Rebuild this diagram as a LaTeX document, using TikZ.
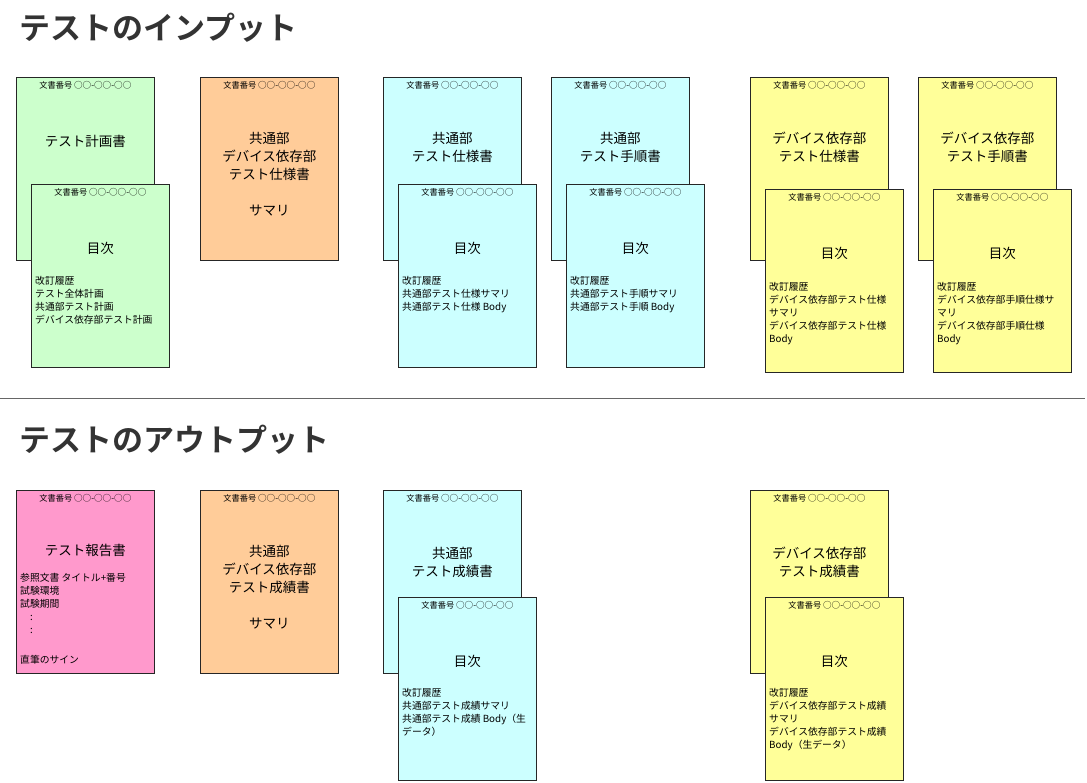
\documentclass[tikz,border=0pt]{standalone}
\usepackage{fontspec}
\setmainfont{Noto Sans CJK JP}
\newfontfamily\headfont{Noto Sans CJK JP Bold}
\definecolor{pgreen}{HTML}{CCFFCC}
\definecolor{porange}{HTML}{FFCC99}
\definecolor{pcyan}{HTML}{CCFFFF}
\definecolor{pyellow}{HTML}{FFFF99}
\definecolor{ppink}{HTML}{FF99CC}
\definecolor{headgray}{HTML}{333333}
\tikzset{
  page/.style={draw=black!85, line width=0.8pt, minimum width=138pt, minimum height=183pt, anchor=north west, inner sep=0pt},
  docno/.style={font=\fontsize{8.2}{9}\selectfont, inner sep=0pt},
  ptitle/.style={font=\fontsize{13.5}{18}\selectfont, align=center, inner sep=0pt},
  plist/.style={font=\fontsize{9.8}{13}\selectfont, align=left, anchor=north west, inner sep=0pt},
  heading/.style={font=\headfont\fontsize{31}{34}\selectfont, text=headgray, anchor=west, inner sep=0pt},
}
\newcommand\twocirc{\raisebox{-0.2pt}{\fontsize{8.6}{9}\selectfont ○○}}
\newcommand\docpage[4]{%
  \node[page, fill=#4] (#1) at (#2,#3) {};
  \node[docno] (#1-no) at ([yshift=-8pt]#1.north) {文書番号 \twocirc-\twocirc-\twocirc};
}
\begin{document}
\begin{tikzpicture}[x=1pt,y=-1pt]
\useasboundingbox (0,0) rectangle (1087,782);

% headings
\node[heading] (h1) at (19,28) {テストのインプット};
\node[heading] (h2) at (19,440) {テストのアウトプット};
\coordinate (sepL) at (0,398);
\coordinate (sepR) at (1085,398);
\draw[black!60, line width=0.7pt] (sepL) -- (sepR);

% ---------- input ----------
\docpage{g1}{16}{77}{pgreen}
\node[ptitle] at ([yshift=-64pt]g1.north) {テスト計画書};
\docpage{g2}{31}{184}{pgreen}
\node[ptitle] at ([yshift=-64pt]g2.north) {目次};
\node[plist] at ([xshift=4pt,yshift=-92pt]g2.north west) {改訂履歴\\テスト全体計画\\共通部テスト計画\\デバイス依存部テスト計画};

\docpage{o1}{200}{77}{porange}
\node[ptitle] at ([yshift=-97pt]o1.north) {共通部\\デバイス依存部\\テスト仕様書\\[18pt]サマリ};

\docpage{c1}{383}{77}{pcyan}
\node[ptitle] at ([yshift=-70pt]c1.north) {共通部\\テスト仕様書};
\docpage{c2}{398}{184}{pcyan}
\node[ptitle] at ([yshift=-64pt]c2.north) {目次};
\node[plist] at ([xshift=4pt,yshift=-92pt]c2.north west) {改訂履歴\\共通部テスト仕様サマリ\\共通部テスト仕様 Body};

\docpage{c3}{551}{77}{pcyan}
\node[ptitle] at ([yshift=-70pt]c3.north) {共通部\\テスト手順書};
\docpage{c4}{566}{184}{pcyan}
\node[ptitle] at ([yshift=-64pt]c4.north) {目次};
\node[plist] at ([xshift=4pt,yshift=-92pt]c4.north west) {改訂履歴\\共通部テスト手順サマリ\\共通部テスト手順 Body};

\docpage{y1}{750}{77}{pyellow}
\node[ptitle] at ([yshift=-70pt]y1.north) {デバイス依存部\\テスト仕様書};
\docpage{y2}{765}{189}{pyellow}
\node[ptitle] at ([yshift=-64pt]y2.north) {目次};
\node[plist] at ([xshift=4pt,yshift=-93pt]y2.north west) {改訂履歴\\デバイス依存部テスト仕様\\サマリ\\デバイス依存部テスト仕様\\Body};

\docpage{y3}{918}{77}{pyellow}
\node[ptitle] at ([yshift=-70pt]y3.north) {デバイス依存部\\テスト手順書};
\docpage{y4}{933}{189}{pyellow}
\node[ptitle] at ([yshift=-64pt]y4.north) {目次};
\node[plist] at ([xshift=4pt,yshift=-93pt]y4.north west) {改訂履歴\\デバイス依存部手順仕様サ\\マリ\\デバイス依存部手順仕様\\Body};

% ---------- output ----------
\docpage{p1}{16}{490}{ppink}
\node[ptitle] at ([yshift=-60pt]p1.north) {テスト報告書};
\node[plist] at ([xshift=4pt,yshift=-83pt]p1.north west) {参照文書 タイトル+番号\\試験環境\\試験期間\\\hspace{10pt}:\\\hspace{10pt}:};
\node[plist, anchor=west] at ([xshift=4pt,yshift=-170pt]p1.north west) {直筆のサイン};

\docpage{o2}{200}{490}{porange}
\node[ptitle] at ([yshift=-97pt]o2.north) {共通部\\デバイス依存部\\テスト成績書\\[18pt]サマリ};

\docpage{c5}{383}{490}{pcyan}
\node[ptitle] at ([yshift=-72pt]c5.north) {共通部\\テスト成績書};
\docpage{c6}{398}{597}{pcyan}
\node[ptitle] at ([yshift=-64pt]c6.north) {目次};
\node[plist] at ([xshift=4pt,yshift=-91pt]c6.north west) {改訂履歴\\共通部テスト成績サマリ\\共通部テスト成績 Body（生\\データ）};

\docpage{y5}{750}{490}{pyellow}
\node[ptitle] at ([yshift=-72pt]y5.north) {デバイス依存部\\テスト成績書};
\docpage{y6}{765}{597}{pyellow}
\node[ptitle] at ([yshift=-64pt]y6.north) {目次};
\node[plist] at ([xshift=4pt,yshift=-91pt]y6.north west) {改訂履歴\\デバイス依存部テスト成績\\サマリ\\デバイス依存部テスト成績\\Body（生データ）};
\end{tikzpicture}
\end{document}
